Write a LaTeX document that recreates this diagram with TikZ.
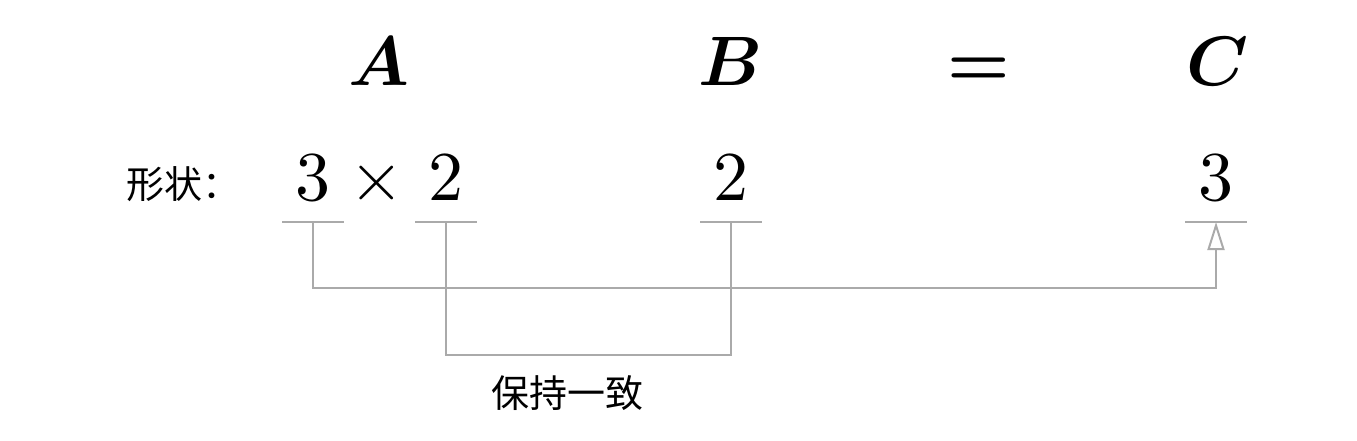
\documentclass[tikz,border=0pt]{standalone}
\usepackage{bm}
\usepackage{fontspec}
\newfontfamily\cjk{Noto Sans CJK SC}[FakeStretch=1]
\usetikzlibrary{arrows.meta}
\definecolor{linegray}{HTML}{AAAAAA}
\newcommand{\bigmath}[1]{\scalebox{7}{\fontsize{10}{12}\selectfont$#1$}}
\tikzset{
  big/.style={inner sep=0pt, anchor=base},
  cjklabel/.style={inner sep=0pt, font=\cjk\fontsize{38}{44}\selectfont},
  conn/.style={draw=linegray, line width=2pt},
}
\begin{document}
\begin{tikzpicture}[x=1pt,y=-1pt]
\useasboundingbox (0,0) rectangle (1357,440);
% header row
\node[big] (A) at (379,85) {\bigmath{\bm{A}}};
\node[big] (B) at (731,85) {\bigmath{\bm{B}}};
\node[big] (eq) at (979,85) {\bigmath{\bm{=}}};
\node[big] (C) at (1218,85) {\bigmath{\bm{C}}};
% shape row
\node[cjklabel, anchor=west] (lab) at (126,184) {形状：};
\node[big] (a3) at (313,200) {\bigmath{3}};
\node[big] (tm) at (377,200) {\bigmath{\times}};
\node[big] (a2) at (446,200) {\bigmath{2}};
\node[big] (b2) at (731,200) {\bigmath{2}};
\node[big] (c3) at (1216,200) {\bigmath{3}};
% underline centres
\coordinate (u1) at (313,222);
\coordinate (u2) at (446,222);
\coordinate (u3) at (731,222);
\coordinate (u4) at (1216,222);
\foreach \u in {u1,u2,u3,u4}
  \draw[conn] ([xshift=-31pt]\u) -- ([xshift=31pt]\u);
% connectors
\coordinate (k1) at (313,288);
\coordinate (k2) at (446,355);
\draw[conn, -{Triangle[open, length=28pt, width=17pt, line width=2pt]}] (u1) -- (k1) -| (u4);
\draw[conn] (u2) -- (k2) -| (u3);
\node[cjklabel] (keep) at (567,393) {保持一致};
\end{tikzpicture}
\end{document}
